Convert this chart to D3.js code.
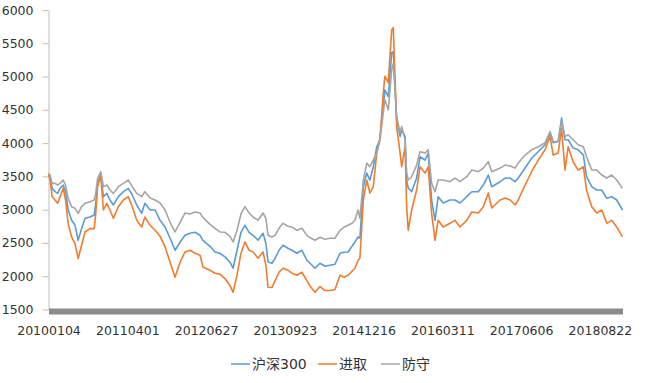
<!DOCTYPE html>
<html>
<head>
<meta charset="utf-8">
<script src="https://cdn.jsdelivr.net/npm/d3@7/dist/d3.min.js"></script>
<style>
  body { margin: 0; background: #fff; }
  svg text { font-family: "DejaVu Sans", "Noto Sans CJK SC", sans-serif; fill: #333; }
</style>
</head>
<body>
<div id="chart"></div>
<script>
// trading-day position of each sampled point (0 = 20100104)
var dayIdx = [0,6,14,25,35,44,56,65,75,88,101,113,126,139,158,174,180,187,199,209,
  222,234,247,266,285,304,319,336,355,367,387,406,425,444,463,482,501,520,539,558,
  577,588,615,634,653,672,691,703,718,733,748,764,779,798,817,828,836,851,863,878,
  893,912,927,946,965,984,1000,1015,1034,1053,1072,1091,1110,1125,1141,1156,1167,1179,1186,1199,
  1212,1224,1237,1250,1262,1275,1281,1294,1307,1313,1326,1339,1345,1358,1364,1370,1383,1402,1415,1434,
  1446,1459,1472,1484,1503,1529,1548,1567,1593,1612,1637,1656,1675,1688,1720,1739,1758,1777,1789,1815,
  1840,1865,1891,1910,1922,1941,1954,1967,1979,1998,2017,2037,2049,2069,2088,2107,2126,2145,2164,2186];

var hs300 = [3540,3475,3320,3270,3245,3320,3370,3270,2995,2840,2765,2540,2715,2870,2890,2920,3095,3395,3520,3195,
  3245,3145,3070,3195,3270,3320,3220,3070,2945,3095,2995,2995,2840,2740,2570,2390,2510,2615,2645,2660,
  2615,2540,2450,2365,2345,2290,2210,2120,2390,2660,2765,2660,2615,2540,2645,2495,2215,2195,2270,2390,
  2465,2420,2390,2345,2390,2240,2180,2120,2195,2150,2165,2180,2345,2360,2365,2450,2515,2590,2570,3345,
  3550,3445,3645,3945,4050,4550,4800,4700,5360,5375,4350,4100,4200,4100,3445,3325,3270,3475,3795,3745,
  3850,3145,2840,3195,3100,3145,3145,3100,3195,3270,3270,3370,3520,3345,3420,3475,3475,3420,3475,3625,
  3775,3870,3975,4155,4005,4025,4375,4050,4050,3925,3900,3820,3495,3345,3295,3295,3170,3195,3145,2995];

var jinqu = [3540,3445,3195,3145,3095,3195,3320,3145,2790,2590,2490,2265,2465,2665,2715,2715,2945,3345,3520,2995,
  3095,2995,2870,3045,3145,3195,3045,2840,2740,2890,2765,2690,2600,2440,2210,1985,2210,2365,2390,2345,
  2315,2140,2090,2045,2030,1965,1860,1760,2015,2345,2515,2390,2365,2270,2365,2165,1835,1830,1935,2060,
  2120,2090,2045,2015,2060,1935,1830,1760,1845,1785,1785,1800,2015,1985,2015,2075,2120,2240,2270,3145,
  3445,3250,3345,3850,4050,4755,5005,4910,5705,5735,4250,3850,3645,3945,3045,2690,2995,3295,3645,3550,
  3645,2950,2540,2840,2740,2795,2840,2740,2840,2965,2950,3045,3250,3025,3145,3175,3145,3070,3145,3370,
  3570,3745,3900,4100,3820,3850,4225,3595,3945,3720,3595,3645,3295,3045,2950,2995,2795,2840,2740,2590];

var fangshou = [3540,3520,3395,3395,3370,3395,3445,3370,3170,3045,3020,2945,3045,3095,3120,3145,3245,3470,3570,3345,
  3370,3295,3245,3345,3395,3445,3345,3245,3195,3270,3175,3145,3100,2995,2810,2665,2810,2950,2935,2965,
  2950,2885,2780,2720,2665,2660,2600,2515,2690,2935,3045,2950,2890,2840,2950,2870,2615,2590,2615,2720,
  2795,2750,2740,2690,2720,2615,2570,2540,2585,2555,2570,2570,2690,2735,2765,2795,2840,2995,2870,3445,
  3700,3645,3745,3850,4050,4455,4650,4500,5105,5195,4400,4155,4250,4050,3550,3445,3495,3670,3870,3850,
  3900,3400,3270,3445,3445,3420,3475,3420,3495,3595,3570,3625,3720,3570,3625,3670,3655,3625,3700,3820,
  3900,3945,4005,4175,4025,4025,4325,4100,4125,4050,3975,3945,3795,3595,3595,3520,3475,3520,3445,3320];

var seriesNames = ["沪深300", "进取", "防守"];
var seriesColors = ["#5B9BD5", "#ED7D31", "#A5A5A5"];

var xTickIdx = [0, 300, 600, 900, 1200, 1500, 1800, 2100];
var xTickLabels = ["20100104", "20110401", "20120627", "20130923", "20141216", "20160311", "20170606", "20180822"];
var yTicks = [1500, 2000, 2500, 3000, 3500, 4000, 4500, 5000, 5500, 6000];

var w = 660, h = 383;
var svg = d3.select("#chart").append("svg")
    .attr("width", w)
    .attr("height", h);

var x = d3.scaleLinear().domain([0, 2186]).range([48.5, 622.5]);
var y = d3.scaleLinear().domain([1500, 6000]).range([309.5, 10]);

// y axis
var yAxis = svg.append("g")
    .attr("transform", "translate(48.5,0)")
    .call(d3.axisLeft(y).tickValues(yTicks).tickFormat(d3.format("d"))
        .tickSize(6).tickPadding(9).tickSizeOuter(0));
yAxis.select(".domain").attr("stroke", "#bfbfbf");
yAxis.selectAll(".tick line").attr("stroke", "#bfbfbf");
yAxis.selectAll("text").style("font-size", "12.5px");

// lines
var line = d3.line()
    .x(function (d, i) { return x(dayIdx[i]); })
    .y(function (d) { return y(d); });

[hs300, jinqu, fangshou].forEach(function (s, k) {
    svg.append("path")
        .datum(s)
        .attr("fill", "none")
        .attr("stroke", seriesColors[k])
        .attr("stroke-width", 1.6)
        .attr("stroke-linejoin", "round")
        .attr("d", line);
});

// x axis - thick grey bar along the bottom
var xAxis = svg.append("g")
    .attr("transform", "translate(0,311)")
    .call(d3.axisBottom(x).tickValues(xTickIdx)
        .tickFormat(function (d, i) { return xTickLabels[i]; })
        .tickSize(0).tickPadding(15));
xAxis.select(".domain").attr("stroke", "#8c8c8c").attr("stroke-width", 6);
xAxis.selectAll("text").style("font-size", "12.5px");

// legend
var legendX = [231, 318, 381];
var legend = svg.selectAll(".legend")
    .data(seriesNames)
    .enter()
    .append("g")
    .attr("class", "legend")
    .attr("transform", function (d, i) { return "translate(" + legendX[i] + ",364)"; });
legend.append("line")
    .attr("x1", 0).attr("x2", 19)
    .attr("stroke", function (d, i) { return seriesColors[i]; })
    .attr("stroke-width", 1.5);
legend.append("text")
    .attr("x", 21)
    .attr("dy", "0.36em")
    .style("font-size", "14px")
    .text(function (d) { return d; });
</script>
</body>
</html>
